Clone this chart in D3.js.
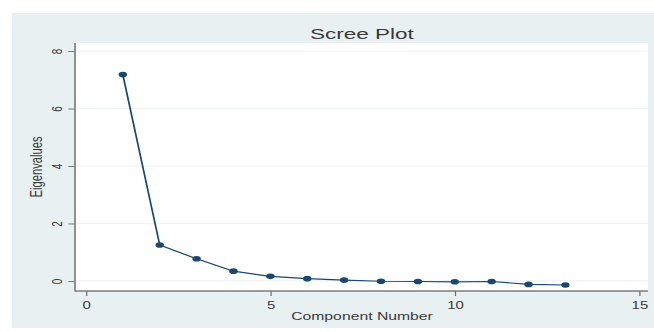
<!DOCTYPE html>
<html>
<head>
<meta charset="utf-8">
<script src="https://cdn.jsdelivr.net/npm/d3@7"></script>
<style>
  html, body { margin: 0; padding: 0; background: #ffffff; }
  svg { display: block; }
  text { font-family: "Liberation Sans", Arial, Helvetica, sans-serif; fill: #3a3a3a; }
</style>
</head>
<body>
<svg id="chart"></svg>
<script>
// Scree plot: eigenvalue of each component
const components = [1, 2, 3, 4, 5, 6, 7, 8, 9, 10, 11, 12, 13];
const eigenvalues = [7.18, 1.25, 0.77, 0.34, 0.16, 0.08, 0.03, -0.01, -0.02, -0.03, -0.02, -0.12, -0.14];
const xTicks = [0, 5, 10, 15];
const yTicks = [0, 2, 4, 6, 8];
const titleText = "Scree Plot";
const xTitle = "Component Number";
const yTitle = "Eigenvalues";

// The drawing is laid out in a narrow coordinate space and widened to the window
const W = 654, H = 332, SX = 1.5;
const IW = W / SX;

const svg = d3.select("#chart")
  .attr("width", W).attr("height", H)
  .attr("viewBox", `0 0 ${IW} ${H}`)
  .attr("preserveAspectRatio", "none");

const navy = "#1a476f";
const bg = "#e9f0f2";

// graph region
svg.append("rect").attr("x", 12 / SX).attr("y", 13)
  .attr("width", IW - 12 / SX).attr("height", 315).attr("fill", bg);

// plot region bounds
const plot = { left: 76 / SX, right: 648 / SX, top: 43, bottom: 291 };

svg.append("rect").attr("x", plot.left).attr("y", plot.top)
  .attr("width", plot.right - plot.left).attr("height", plot.bottom - plot.top)
  .attr("fill", "#ffffff");

const x = d3.scaleLinear().domain([-0.27, 15.24]).range([plot.left, plot.right]);
const y = d3.scaleLinear().domain([-0.35, 8.28]).range([plot.bottom, plot.top]);

// horizontal grid lines
svg.append("g").selectAll("line").data(yTicks).join("line")
  .attr("x1", plot.left).attr("x2", plot.right)
  .attr("y1", d => y(d)).attr("y2", d => y(d))
  .attr("stroke", "#eef3f5").attr("stroke-width", 1.2);

// y axis
const yAxis = svg.append("g").attr("transform", `translate(${75 / SX},0)`)
  .call(d3.axisLeft(y).tickValues(yTicks).tickSize(4.5).tickPadding(0).tickFormat(d3.format("d")));
yAxis.select(".domain").remove();
yAxis.append("line").attr("x1", 0).attr("x2", 0).attr("y1", plot.top).attr("y2", plot.bottom + 0.5)
  .attr("stroke", "#7d7d7d").attr("stroke-width", 1.1);
yAxis.selectAll(".tick line").attr("stroke", "#6a6a6a").attr("stroke-width", 0.9);
yAxis.selectAll(".tick text")
  .attr("x", null).attr("dy", null)
  .attr("text-anchor", "middle")
  .attr("transform", `translate(${41 - 75 / SX},0) rotate(-90)`)
  .attr("font-size", 10).style("fill", "#3a3a3a")
  .attr("font-family", "Liberation Sans, Arial, sans-serif");

// x axis
const xAxis = svg.append("g").attr("transform", `translate(0,${plot.bottom})`)
  .call(d3.axisBottom(x).tickValues(xTicks).tickSize(5).tickPadding(0).tickFormat(d3.format("d")));
xAxis.select(".domain").remove();
xAxis.append("line").attr("x1", 75 / SX).attr("x2", plot.right).attr("y1", 0).attr("y2", 0)
  .attr("stroke", "#7d7d7d").attr("stroke-width", 1.3);
xAxis.selectAll(".tick line").attr("stroke", "#6a6a6a").attr("stroke-width", 0.8);
xAxis.selectAll(".tick text")
  .attr("y", 18).attr("dy", null)
  .attr("font-size", 10).style("fill", "#3a3a3a")
  .attr("font-family", "Liberation Sans, Arial, sans-serif");

// titles
const cx = (plot.left + plot.right) / 2;
svg.append("text").attr("x", cx).attr("y", 39.5)
  .attr("text-anchor", "middle").attr("font-size", 15).text(titleText);
svg.append("text").attr("x", cx).attr("y", 320.5)
  .attr("text-anchor", "middle").attr("font-size", 10.5).text(xTitle);
svg.append("text")
  .attr("transform", `translate(${28},${(plot.top + plot.bottom) / 2}) rotate(-90)`)
  .attr("text-anchor", "middle").attr("font-size", 10.5)
  .attr("textLength", 61).attr("lengthAdjust", "spacingAndGlyphs")
  .text(yTitle);

// connected line and markers
const line = d3.line().x((d, i) => x(components[i])).y(d => y(d));
svg.append("path").datum(eigenvalues)
  .attr("d", line).attr("fill", "none")
  .attr("stroke", navy).attr("stroke-width", 1.15).attr("stroke-linejoin", "round");

svg.append("g").selectAll("circle").data(eigenvalues).join("circle")
  .attr("cx", (d, i) => x(components[i])).attr("cy", d => y(d))
  .attr("r", 2.8).attr("fill", navy);
</script>
</body>
</html>
